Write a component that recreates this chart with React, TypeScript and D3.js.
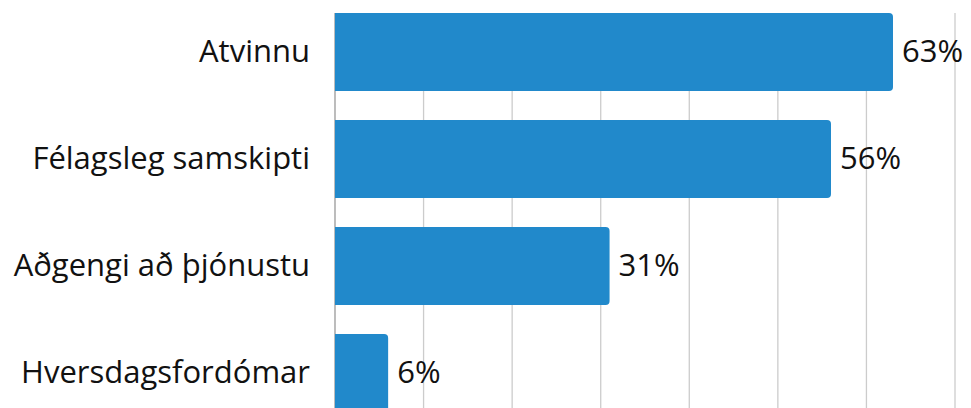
import React from "react";
import * as d3 from "d3";

const categories = ["Atvinnu", "Félagsleg samskipti", "Aðgengi að þjónustu", "Hversdagsfordómar"];
const values = [63, 56, 31, 6];
const ticks = [0, 10, 20, 30, 40, 50, 60, 70];

const W = 971;
const H = 408;
const FONT = "'Open Sans', sans-serif";

export default function App() {
  const x = d3.scaleLinear().domain([0, 70]).range([335, 955]);
  const y = d3
    .scaleBand<string>()
    .domain(categories)
    .range([-1.5, 426.5])
    .paddingInner(0.271)
    .paddingOuter(0.1355);
  const bw = y.bandwidth();
  const r = 4;
  const barPath = (v: number, cat: string) => {
    const x0 = x(0);
    const x1 = x(v);
    const y0 = y(cat)!;
    const y1 = y0 + bw;
    return `M${x0},${y0}H${x1 - r}Q${x1},${y0} ${x1},${y0 + r}V${y1 - r}Q${x1},${y1} ${x1 - r},${y1}H${x0}Z`;
  };
  const fs = 31;
  return (
    <svg width={W} height={H} style={{ position: "absolute", left: 0, top: 0 }}>
      <rect width={W} height={H} fill="#fff" />
      {ticks.slice(1).map((t) => (
        <line key={t} x1={x(t)} x2={x(t)} y1={13} y2={H} stroke="#cccccc" strokeWidth={1.3} />
      ))}
      <line x1={x(0)} x2={x(0)} y1={13} y2={H} stroke="#999" strokeWidth={1.3} />
      {categories.map((c, i) => (
        <g key={c}>
          <path d={barPath(values[i], c)} fill="#2189CB" />
          <text
            x={310}
            y={y(c)! + bw / 2}
            dy="0.33em"
            textAnchor="end"
            fontFamily={FONT}
            fontSize={fs}
            fill="#111"
          >
            {c}
          </text>
          <text
            x={x(values[i]) + 9}
            y={y(c)! + bw / 2}
            dy="0.33em"
            textAnchor="start"
            fontFamily={FONT}
            fontSize={fs}
            fill="#111"
          >
            {values[i]}%
          </text>
        </g>
      ))}
    </svg>
  );
}
